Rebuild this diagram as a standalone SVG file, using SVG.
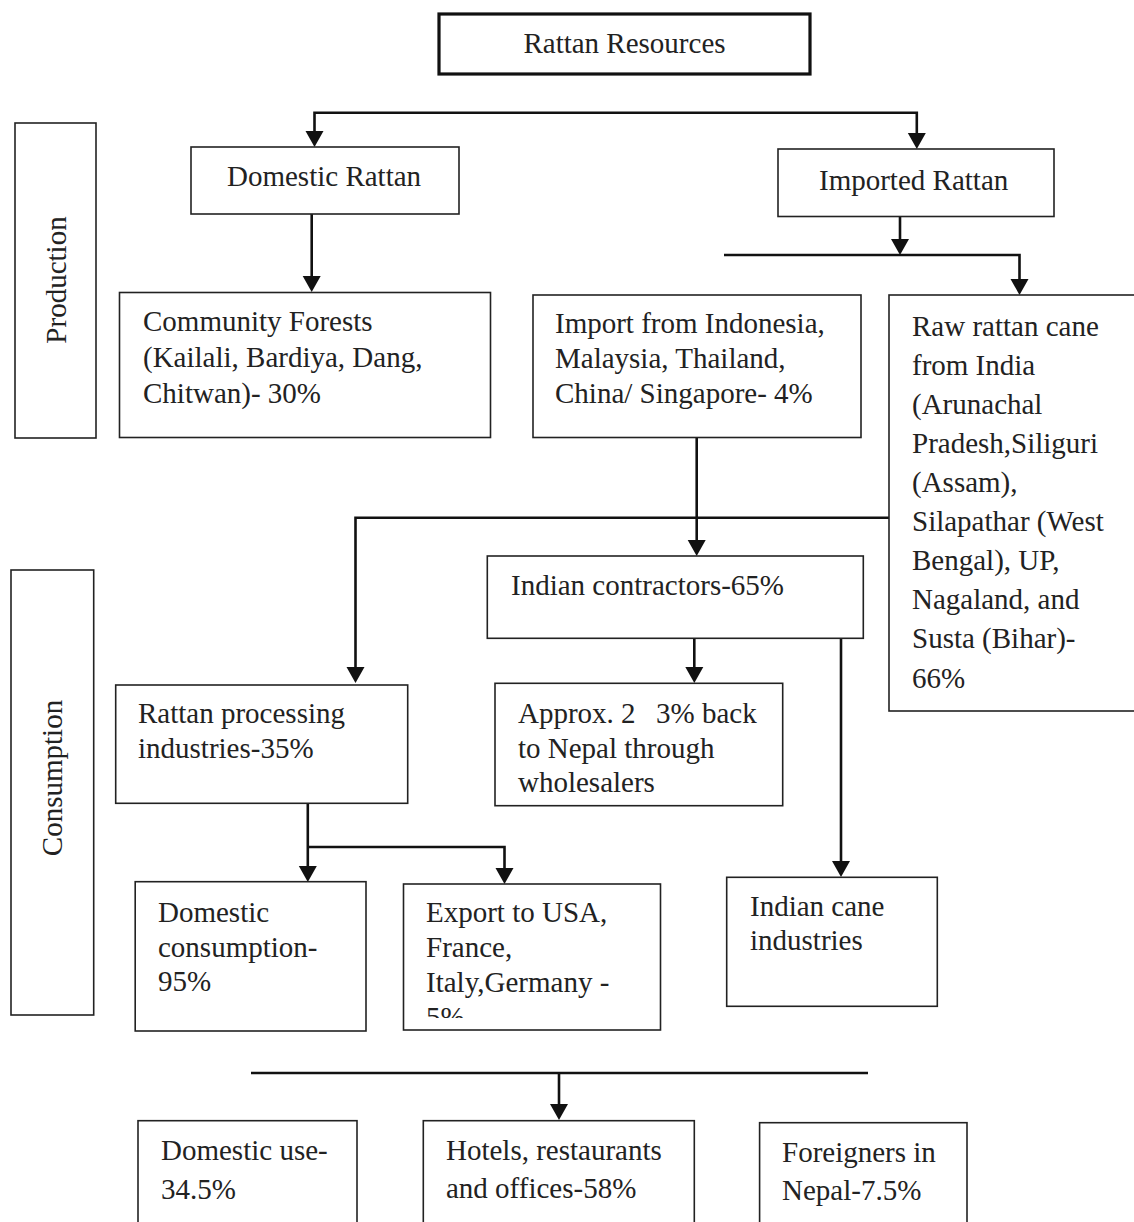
<svg xmlns="http://www.w3.org/2000/svg" width="1134" height="1222" viewBox="0 0 1134 1222">
<style>
.box{fill:#fff;stroke:#222;stroke-width:1.6}
.thick{fill:#fff;stroke:#111;stroke-width:3.2}
.t{font-family:"Liberation Serif","Times New Roman",serif;font-size:29px;fill:#222}
.c{fill:none;stroke:#111;stroke-width:2.6}
.ah{fill:#111}
</style>
<defs>
<clipPath id="clipExport"><rect x="403" y="884" width="258" height="134"/></clipPath>
</defs>
<rect width="1134" height="1222" fill="#fff"/>

<g id="connectors">
<polyline class="c" points="314.5,131 314.5,112.7 916.8,112.7 916.8,133"/>
<path class="ah" d="M305.5,131 L323.5,131 L314.5,147 Z"/>
<path class="ah" d="M907.8,133 L925.8,133 L916.8,149 Z"/>
<line class="c" x1="311.7" y1="214" x2="311.7" y2="276"/>
<path class="ah" d="M302.7,276 L320.7,276 L311.7,292 Z"/>
<line class="c" x1="900" y1="217" x2="900" y2="239"/>
<path class="ah" d="M891,239 L909,239 L900,255 Z"/>
<polyline class="c" points="724,255 1019.5,255 1019.5,279"/>
<path class="ah" d="M1010.5,279 L1028.5,279 L1019.5,295 Z"/>
<line class="c" x1="696.7" y1="437" x2="696.7" y2="540"/>
<path class="ah" d="M687.7,540 L705.7,540 L696.7,556 Z"/>
<polyline class="c" points="889,517.7 355.5,517.7 355.5,667"/>
<path class="ah" d="M346.5,667 L364.5,667 L355.5,683 Z"/>
<line class="c" x1="694.3" y1="638" x2="694.3" y2="667"/>
<path class="ah" d="M685.3,667 L703.3,667 L694.3,683 Z"/>
<line class="c" x1="841" y1="638" x2="841" y2="861"/>
<path class="ah" d="M832,861 L850,861 L841,877 Z"/>
<line class="c" x1="307.8" y1="803" x2="307.8" y2="866"/>
<path class="ah" d="M298.8,866 L316.8,866 L307.8,882 Z"/>
<polyline class="c" points="307.8,847 504.5,847 504.5,868"/>
<path class="ah" d="M495.5,868 L513.5,868 L504.5,884 Z"/>
<line class="c" x1="251" y1="1073" x2="868" y2="1073"/>
<line class="c" x1="559" y1="1073" x2="559" y2="1104"/>
<path class="ah" d="M550,1104 L568,1104 L559,1120 Z"/>
</g>

<g id="rattan-resources">
<rect class="thick" x="439" y="14" width="371" height="60"/>
<text class="t" x="624.5" y="53" text-anchor="middle">Rattan Resources</text>
</g>

<g id="production">
<rect class="box" x="15" y="123" width="81" height="315"/>
<text class="t" transform="translate(66 280) rotate(-90)" text-anchor="middle">Production</text>
</g>

<g id="consumption">
<rect class="box" x="11" y="570" width="82.7" height="445"/>
<text class="t" transform="translate(62 778) rotate(-90)" text-anchor="middle">Consumption</text>
</g>

<g id="domestic-rattan">
<rect class="box" x="191" y="147" width="268" height="67"/>
<text class="t" x="227" y="186">Domestic Rattan</text>
</g>

<g id="imported-rattan">
<rect class="box" x="778" y="149" width="276" height="67.5"/>
<text class="t" x="819" y="190">Imported Rattan</text>
</g>

<g id="community-forests">
<rect class="box" x="119.5" y="292.5" width="371" height="145"/>
<text class="t"><tspan x="143" y="331">Community Forests</tspan><tspan x="143" y="367">(Kailali, Bardiya, Dang,</tspan><tspan x="143" y="403">Chitwan)- 30%</tspan></text>
</g>

<g id="import-indonesia">
<rect class="box" x="533" y="295" width="328" height="142.5"/>
<text class="t"><tspan x="555" y="333">Import from Indonesia,</tspan><tspan x="555" y="368">Malaysia, Thailand,</tspan><tspan x="555" y="403">China/ Singapore- 4%</tspan></text>
</g>

<g id="raw-rattan">
<rect class="box" x="889" y="295" width="260" height="416"/>
<text class="t"><tspan x="912" y="336">Raw rattan cane</tspan><tspan x="912" y="375">from India</tspan><tspan x="912" y="414">(Arunachal</tspan><tspan x="912" y="453">Pradesh,Siliguri</tspan><tspan x="912" y="492">(Assam),</tspan><tspan x="912" y="531">Silapathar (West</tspan><tspan x="912" y="570">Bengal), UP,</tspan><tspan x="912" y="609">Nagaland, and</tspan><tspan x="912" y="648">Susta (Bihar)-</tspan><tspan x="912" y="688">66%</tspan></text>
</g>

<g id="indian-contractors">
<rect class="box" x="487.3" y="556" width="376" height="82.3"/>
<text class="t" x="511" y="595">Indian contractors-65%</text>
</g>

<g id="rattan-processing">
<rect class="box" x="115.7" y="685" width="292" height="118.3"/>
<text class="t"><tspan x="138" y="723">Rattan processing</tspan><tspan x="138" y="758">industries-35%</tspan></text>
</g>

<g id="approx-back">
<rect class="box" x="495" y="683.3" width="287.7" height="122.4"/>
<text class="t"><tspan x="518" y="723">Approx. 2</tspan><tspan x="656" y="723">3% back</tspan><tspan x="518" y="758">to Nepal through</tspan><tspan x="518" y="792">wholesalers</tspan></text>
</g>

<g id="indian-cane">
<rect class="box" x="726.7" y="877.3" width="210.6" height="129"/>
<text class="t"><tspan x="750" y="916">Indian cane</tspan><tspan x="750" y="950">industries</tspan></text>
</g>

<g id="domestic-consumption">
<rect class="box" x="135.2" y="881.7" width="230.8" height="149.3"/>
<text class="t"><tspan x="158" y="922">Domestic</tspan><tspan x="158" y="957">consumption-</tspan><tspan x="158" y="991">95%</tspan></text>
</g>

<g id="export">
<rect class="box" x="403.5" y="884" width="257" height="146"/>
<text class="t" clip-path="url(#clipExport)"><tspan x="426" y="922">Export to USA,</tspan><tspan x="426" y="957">France,</tspan><tspan x="426" y="992">Italy,Germany -</tspan><tspan x="426" y="1027">5%</tspan></text>
</g>

<g id="domestic-use">
<rect class="box" x="138" y="1120.7" width="219" height="130"/>
<text class="t"><tspan x="161" y="1160">Domestic use-</tspan><tspan x="161" y="1199">34.5%</tspan></text>
</g>

<g id="hotels">
<rect class="box" x="423.3" y="1120.7" width="271" height="130"/>
<text class="t"><tspan x="446" y="1160">Hotels, restaurants</tspan><tspan x="446" y="1198">and offices-58%</tspan></text>
</g>

<g id="foreigners">
<rect class="box" x="759.6" y="1122.7" width="207.4" height="130"/>
<text class="t"><tspan x="782" y="1162">Foreigners in</tspan><tspan x="782" y="1200">Nepal-7.5%</tspan></text>
</g>
</svg>
